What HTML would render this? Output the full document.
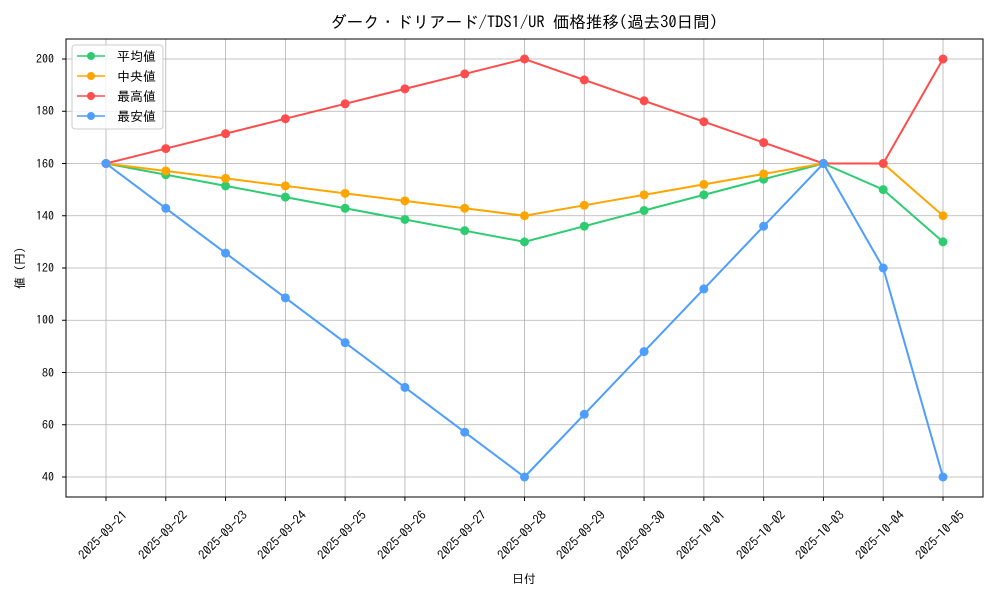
<!DOCTYPE html>
<html><head><meta charset="utf-8"><style>
html,body{margin:0;padding:0;background:#fff;}
svg text{font-family:"IPAGothic","Liberation Sans","Noto Sans CJK JP",sans-serif;fill:#000;}
</style></head><body>
<svg id="s" width="1000" height="600" viewBox="0 0 1000 600" xmlns="http://www.w3.org/2000/svg">
<rect width="1000" height="600" fill="#fff"/>
<g id="grid"></g>
<g id="series"></g>
<rect x="66" y="39" width="917" height="458" fill="none" stroke="#000" stroke-width="1"/>
<text x="524" y="28" font-size="16.5" text-anchor="middle">ダーク・ドリアード/TDS1/UR 価格推移(過去30日間)</text>
<g font-size="12" text-anchor="end">
<text x="54" y="481">40</text><text x="54" y="429">60</text><text x="54" y="377">80</text>
<text x="54" y="324">100</text><text x="54" y="272">120</text><text x="54" y="220">140</text>
<text x="54" y="168">160</text><text x="54" y="115">180</text><text x="54" y="63">200</text>
</g>
<text transform="translate(24,268) rotate(-90)" font-size="12" text-anchor="middle">値 (円)</text>
<text x="524" y="583" font-size="12" text-anchor="middle">日付</text>
<g font-size="12.5" text-anchor="middle">
<text transform="translate(106,538) rotate(-45)">2025-09-21</text>
<text transform="translate(166,538) rotate(-45)">2025-09-22</text>
<text transform="translate(226,538) rotate(-45)">2025-09-23</text>
<text transform="translate(285,538) rotate(-45)">2025-09-24</text>
<text transform="translate(345,538) rotate(-45)">2025-09-25</text>
<text transform="translate(405,538) rotate(-45)">2025-09-26</text>
<text transform="translate(465,538) rotate(-45)">2025-09-27</text>
<text transform="translate(525,538) rotate(-45)">2025-09-28</text>
<text transform="translate(584,538) rotate(-45)">2025-09-29</text>
<text transform="translate(644,538) rotate(-45)">2025-09-30</text>
<text transform="translate(704,538) rotate(-45)">2025-10-01</text>
<text transform="translate(764,538) rotate(-45)">2025-10-02</text>
<text transform="translate(823,538) rotate(-45)">2025-10-03</text>
<text transform="translate(883,538) rotate(-45)">2025-10-04</text>
<text transform="translate(943,538) rotate(-45)">2025-10-05</text>
</g>
<rect x="72" y="45" width="91" height="84" rx="3" fill="#fff" fill-opacity="0.8" stroke="#ccc"/>
<g font-size="13">
<line x1="77" y1="56" x2="105" y2="56" stroke="#2ecc71" stroke-width="1.5"/><circle cx="91" cy="56" r="4" fill="#2ecc71"/><text x="117" y="61">平均値</text>
<line x1="77" y1="76" x2="105" y2="76" stroke="#ffa500" stroke-width="1.5"/><circle cx="91" cy="76" r="4" fill="#ffa500"/><text x="117" y="81">中央値</text>
<line x1="77" y1="96" x2="105" y2="96" stroke="#ff4d4d" stroke-width="1.5"/><circle cx="91" cy="96" r="4" fill="#ff4d4d"/><text x="117" y="101">最高値</text>
<line x1="77" y1="116" x2="105" y2="116" stroke="#4d9eff" stroke-width="1.5"/><circle cx="91" cy="116" r="4" fill="#4d9eff"/><text x="117" y="121">最安値</text>
</g>
</svg>
<script>
var NS="http://www.w3.org/2000/svg";
function X(i){return 106+59.786*i;}
function Y(v){return 477-(v-40)*2.6125;}
var g=document.getElementById("grid"),s=document.getElementById("series");
function el(p,t,a){var e=document.createElementNS(NS,t);for(var k in a)e.setAttribute(k,a[k]);p.appendChild(e);return e;}
for(var i=0;i<15;i++){el(g,"line",{x1:X(i),x2:X(i),y1:39,y2:497,stroke:"#b0b0b0","stroke-width":0.8});el(g,"line",{x1:X(i),x2:X(i),y1:497,y2:501,stroke:"#000"});}
for(var v=40;v<=200;v+=20){el(g,"line",{x1:66,x2:983,y1:Y(v),y2:Y(v),stroke:"#b0b0b0","stroke-width":0.8});el(g,"line",{x1:62,x2:66,y1:Y(v),y2:Y(v),stroke:"#000"});}
function lin(a,b){var r=[];for(var i=0;i<=7;i++)r.push(a+(b-a)*i/7);return r;}
var D=[
["#2ecc71",lin(160,130).concat([136,142,148,154,160,150,130])],
["#ffa500",lin(160,140).concat([144,148,152,156,160,160,140])],
["#ff4d4d",lin(160,200).concat([192,184,176,168,160,160,200])],
["#4d9eff",lin(160,40).concat([64,88,112,136,160,120,40])]];
D.forEach(function(d){var pts=d[1].map(function(v,i){return X(i)+","+Y(v);}).join(" ");
el(s,"polyline",{points:pts,fill:"none",stroke:d[0],"stroke-width":2});
d[1].forEach(function(v,i){el(s,"circle",{cx:X(i),cy:Y(v),r:4.5,fill:d[0]});});});
</script>
</body></html>
